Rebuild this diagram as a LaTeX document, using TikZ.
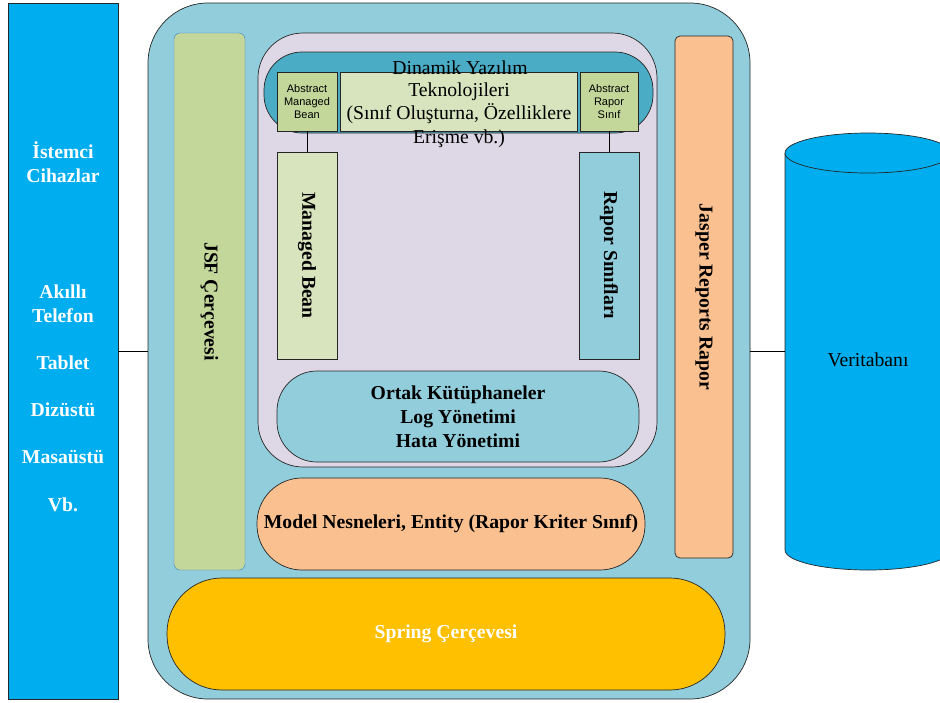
\documentclass[tikz,border=0pt]{standalone}
\usepackage{fontspec}
\setmainfont{Liberation Serif}
\newfontfamily\arialfont{Liberation Sans}
\usepackage{tikz}
\usepackage{xcolor}
\usetikzlibrary{
    calc,
    positioning
}
\definecolor{cyanbox}{HTML}{00AEEF}
\definecolor{paleblue}{HTML}{92CDDC}
\definecolor{olive}{HTML}{C4D79B}
\definecolor{lightolive}{HTML}{D7E4BD}
\definecolor{lavender}{HTML}{DED8E6}
\definecolor{teal}{HTML}{4BACC6}
\definecolor{peach}{HTML}{FAC090}
\definecolor{gold}{HTML}{FFC000}
\definecolor{jsfline}{HTML}{3A7DC9}

\begin{document}
\begin{tikzpicture}[x=1pt, y=-1pt,
    box/.style={draw=black!85, line width=0.7pt},
    big/.style={font=\fontsize{19.7}{24}\selectfont\bfseries, align=center},
    plain/.style={font=\fontsize{19.7}{23.5}\selectfont, align=center},
    tiny/.style={font=\arialfont\fontsize{11}{13}\selectfont, align=center}]
                        \useasboundingbox (0,0) rectangle (940,702);

                        % client side
                        \node[box, fill=cyanbox, minimum width=110pt, minimum height=696pt] (cli) at (63,351) {};
                        \node[big, text=white] (cli1) at (63,162) {İstemci\\Cihazlar};
                        \node[big, text=white] (cli2) at (63,304) {Akıllı\\Telefon};
                        \node[big, text=white] (cli3) at (63,363) {Tablet};
                        \node[big, text=white] (cli4) at (63,410) {Dizüstü};
                        \node[big, text=white] (cli5) at (63,457) {Masaüstü};
                        \node[big, text=white] (cli6) at (63,505) {Vb.};

                        % server side
                        \node[box, fill=paleblue, rounded corners=60pt, minimum width=602pt, minimum height=696pt] (srv) at (449,351) {};
                        \node[draw=jsfline, fill=olive, rounded corners=6pt, rotate=-90, minimum width=537pt, minimum height=71pt, big] (jsf) at (209.5,301.5) {JSF Çerçevesi};
                        \node[box, fill=peach, rounded corners=5pt, rotate=-90, minimum width=522pt, minimum height=58pt, big] (jrr) at (704,297) {Jasper Reports Rapor};

                        \node[box, fill=lavender, rounded corners=45pt, minimum width=399pt, minimum height=434pt] (lav) at (457.5,250) {};
                        \node[box, fill=teal, rounded corners=38pt, minimum width=389pt, minimum height=81pt] (dyn) at (458.5,92.5) {};
                        \node[box, fill=olive, minimum width=60pt, minimum height=59pt, tiny] (amb) at (307,101.5) {Abstract\\Managed\\Bean};
                        \node[box, fill=lightolive, minimum width=237pt, minimum height=59pt] (tek) at (458.5,101.5) {};
                        \node[box, fill=olive, minimum width=58pt, minimum height=59pt, tiny] (ars) at (609,101.5) {Abstract\\Rapor\\Sınıf};
                        \node[plain] (dynl) at (460,67.5) {Dinamik Yazılım};
                        \node[plain] (tekl) at (459,115) {Teknolojileri\\(Sınıf Oluşturna, Özelliklere\\Erişme vb.)};

                        \node[box, fill=lightolive, rotate=-90, minimum width=207pt, minimum height=60pt, big] (mb) at (307,255.5) {Managed Bean};
                        \node[box, fill=paleblue, rotate=-90, minimum width=207pt, minimum height=60pt, big] (rs) at (609,255.5) {Rapor Sınıfları};

                        \node[box, fill=paleblue, rounded corners=40pt, minimum width=362pt, minimum height=91pt, big] (ortak) at (458,416.5) {Ortak Kütüphaneler\\Log Yönetimi\\Hata Yönetimi};
                        \node[box, fill=peach, rounded corners=45pt, minimum width=388pt, minimum height=92pt, big] (model) at (451,524) {Model Nesneleri, Entity (Rapor Kriter Sınıf)};
                        \node[box, fill=gold, rounded corners=55pt, minimum width=558pt, minimum height=112pt, big, text=white] (spring) at (446,634) {Spring Çerçevesi};

                        % database
                        \coordinate (dbw) at (785,351);
                        \fill[cyanbox] (785,153) rectangle (951,550);
                        \fill[cyanbox] (868,550) ellipse [x radius=83pt, y radius=20pt];
                        \draw[black!85, line width=0.7pt] (785,153) -- (785,550) arc[start angle=180, end angle=360, x radius=83pt, y radius=20pt] -- (951,153);
                        \draw[black!85, line width=0.7pt, fill=cyanbox] (868,153) ellipse [x radius=83pt, y radius=20pt];
                        \node[plain] (db) at (868,360) {Veritabanı};

                        \draw[line width=0.7pt]
                        (cli.east) -- (srv.west)
                        (srv.east) -- (dbw)
                        (amb.south) -- (mb.west)
                        (ars.south) -- (rs.west);
                    \end{tikzpicture}
\end{document}
